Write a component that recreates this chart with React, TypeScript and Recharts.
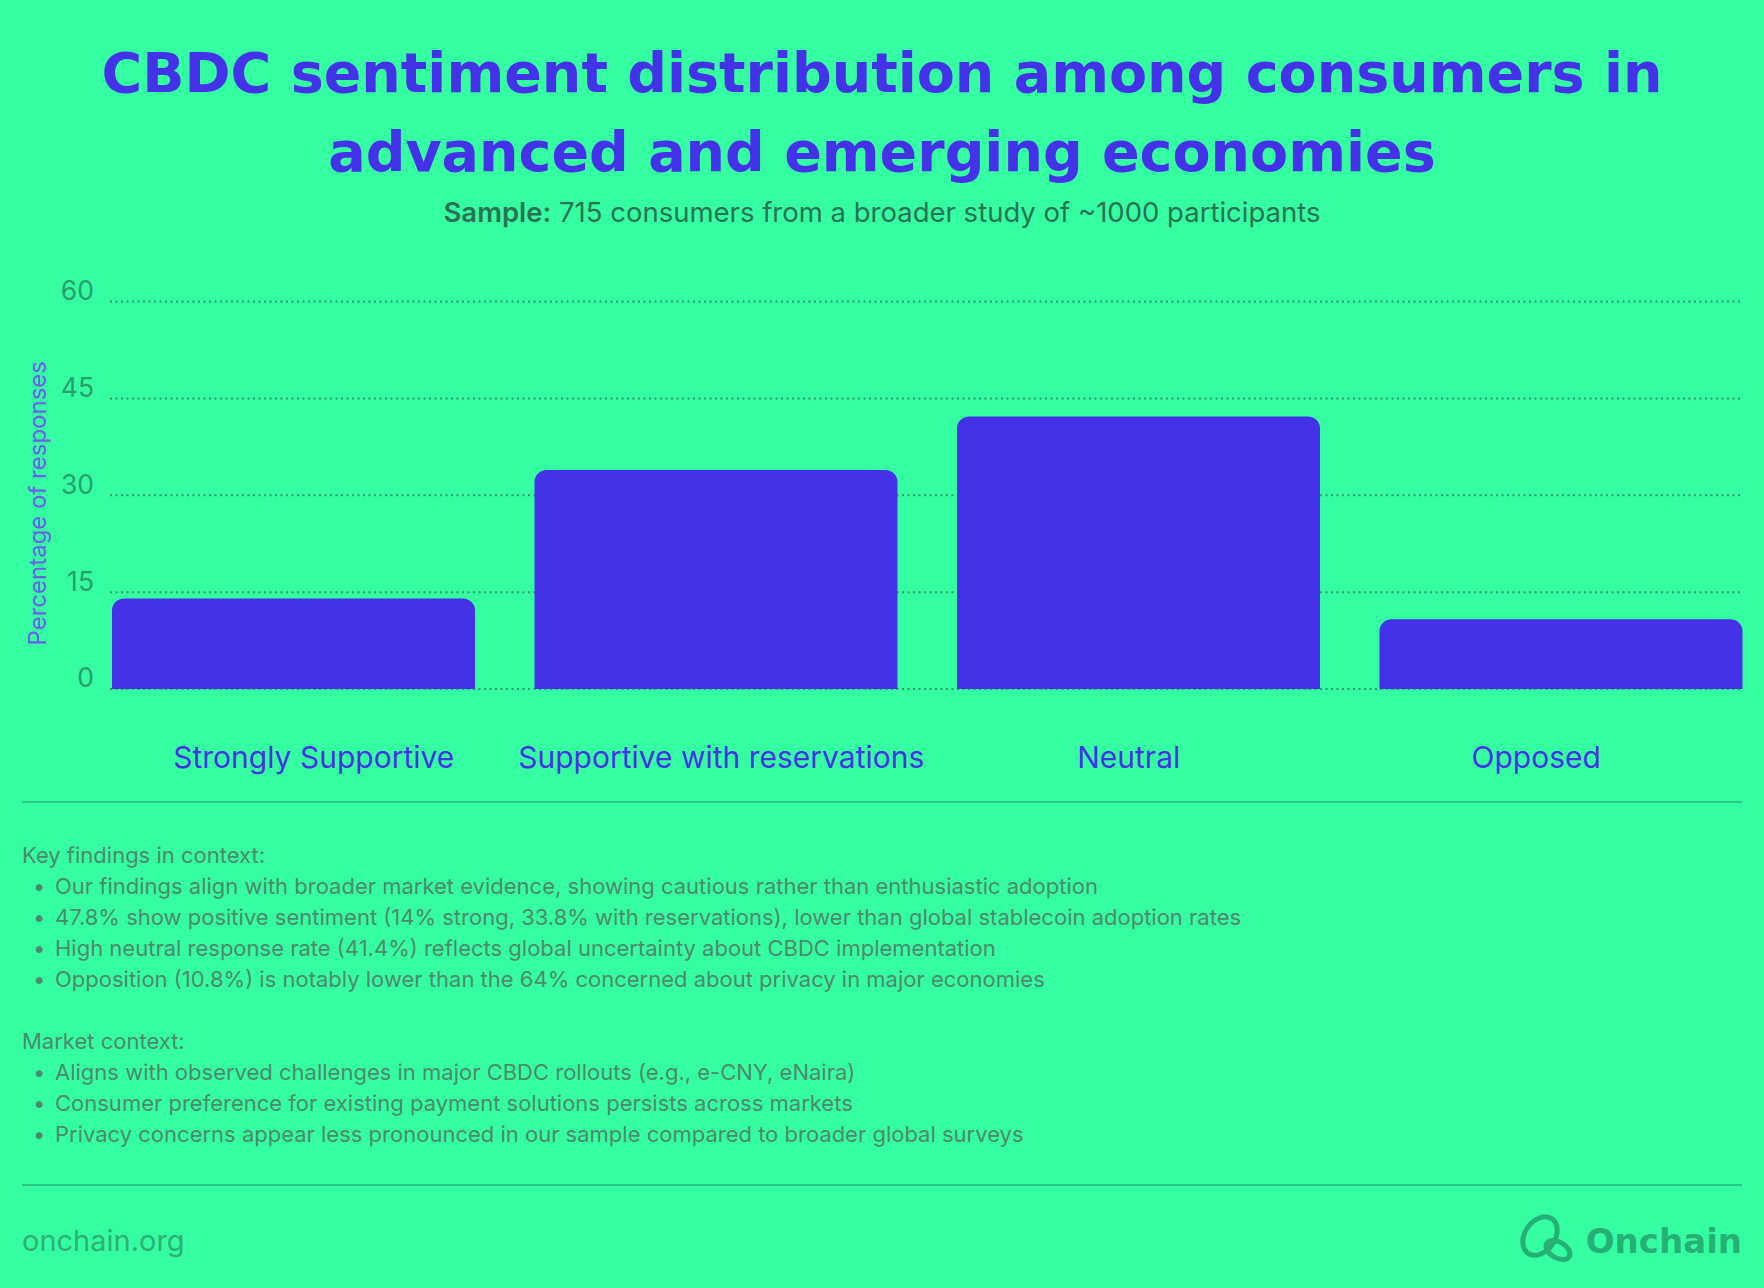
import React from "react";
import { BarChart, Bar, XAxis, YAxis, CartesianGrid, Label } from "recharts";

const categories = [
  "Strongly Supportive",
  "Supportive with reservations",
  "Neutral",
  "Opposed",
];
const shares = [14, 33.9, 42.2, 10.8];
const yTicks = [0, 15, 30, 45, 60];

const titleLines = [
  "CBDC sentiment distribution among consumers in",
  "advanced and emerging economies",
];
const keyFindings = [
  "Our findings align with broader market evidence, showing cautious rather than enthusiastic adoption",
  "47.8% show positive sentiment (14% strong, 33.8% with reservations), lower than global stablecoin adoption rates",
  "High neutral response rate (41.4%) reflects global uncertainty about CBDC implementation",
  "Opposition (10.8%) is notably lower than the 64% concerned about privacy in major economies",
];
const marketContext = [
  "Aligns with observed challenges in major CBDC rollouts (e.g., e-CNY, eNaira)",
  "Consumer preference for existing payment solutions persists across markets",
  "Privacy concerns appear less pronounced in our sample compared to broader global surveys",
];

const data = categories.map((c, i) => ({ category: c, value: shares[i] }));

const BG = "#35FEA2";
const PURPLE = "#4432E8";
const GRID = "#2c9a6a";
const BODY = "#4d8a6a";
const LINE = "#2bc986";

const YTitle = (props: any) => {
  const vb = props.viewBox || { x: 0, y: 0, width: 0, height: 0 };
  const x = vb.x + 7;
  const y = vb.y + vb.height / 2 + 8;
  return (
    <text
      x={x}
      y={y}
      transform={`rotate(-90, ${x}, ${y})`}
      textAnchor="middle"
      dominantBaseline="central"
      fill="#6a60ea"
      fontSize={24}
      fontFamily="Inter, sans-serif"
    >
      Percentage of responses
    </text>
  );
};

const Bullets = ({ top, heading, items }: { top: number; heading: string; items: string[] }) => (
  <div
    style={{
      position: "absolute",
      left: 22,
      top,
      fontFamily: "Inter, sans-serif",
      fontSize: 22,
      lineHeight: "31px",
      color: BODY,
      whiteSpace: "nowrap",
    }}
  >
    <div>{heading}</div>
    {items.map((t, i) => (
      <div key={i} style={{ position: "relative", paddingLeft: 33 }}>
        <span style={{ position: "absolute", left: 11 }}>•</span>
        {t}
      </div>
    ))}
  </div>
);

export default function App() {
  return (
    <div
      style={{
        position: "absolute",
        left: 0,
        top: 0,
        width: 1764,
        height: 1288,
        background: BG,
        overflow: "hidden",
      }}
    >
      <div
        style={{
          position: "absolute",
          left: 0,
          top: 33,
          width: 1764,
          textAlign: "center",
          fontFamily: "'DejaVu Sans', sans-serif",
          fontWeight: 700,
          fontSize: 55.5,
          lineHeight: "79px",
          color: PURPLE,
          whiteSpace: "nowrap",
        }}
      >
        {titleLines.map((l, i) => (
          <div key={i}>{l}</div>
        ))}
      </div>
      <div
        style={{
          position: "absolute",
          left: 0,
          top: 195,
          width: 1764,
          textAlign: "center",
          fontFamily: "Inter, sans-serif",
          fontSize: 27.5,
          lineHeight: "34px",
          color: "#2a7352",
        }}
      >
        <span style={{ fontWeight: 600 }}>Sample:</span> 715 consumers from a broader study of ~1000 participants
      </div>

      <div style={{ position: "absolute", left: 0, top: 240 }}>
        <BarChart
          width={1764}
          height={560}
          data={data}
          margin={{ top: 61.5, right: 24, bottom: 0, left: 30 }}
          barCategoryGap={30}
          style={{ fontFamily: "Inter, sans-serif" }}
        >
          <CartesianGrid
            horizontal={true}
            vertical={false}
            xAxisId="labels"
            stroke={GRID}
            strokeWidth={2}
            strokeDasharray="2 3.5"
          />
          <XAxis xAxisId="bars" dataKey="category" hide padding={{ left: -28, right: -32 }} />
          <XAxis
            xAxisId="labels"
            dataKey="category"
            interval={0}
            tickLine={false}
            axisLine={false}
            tickSize={0}
            tickMargin={28}
            height={111}
            tick={{ fill: "#4433E6", fontSize: 30, fontFamily: "Inter, sans-serif" }}
          />
          <YAxis
            domain={[0, 60]}
            ticks={yTicks}
            width={80}
            tickLine={false}
            axisLine={false}
            tickSize={0}
            tickMargin={16}
            tick={{ fill: "#2a9e6c", fontSize: 26.5, fontFamily: "Inter, sans-serif", dy: -11 }}
          >
            <Label content={YTitle} />
          </YAxis>
          <Bar
            xAxisId="bars"
            dataKey="value"
            fill={PURPLE}
            radius={[12, 12, 0, 0]}
            isAnimationActive={false}
          />
        </BarChart>
      </div>

      <div style={{ position: "absolute", left: 22, top: 801, width: 1720, height: 2, background: LINE }} />

      <Bullets top={839.5} heading="Key findings in context:" items={keyFindings} />
      <Bullets top={1025.5} heading="Market context:" items={marketContext} />

      <div style={{ position: "absolute", left: 22, top: 1184, width: 1720, height: 2, background: LINE }} />

      <div
        style={{
          position: "absolute",
          left: 22,
          top: 1222,
          fontFamily: "Inter, sans-serif",
          fontSize: 29,
          lineHeight: "38px",
          color: "#2db074",
        }}
      >
        onchain.org
      </div>

      <svg
        style={{ position: "absolute", left: 1518, top: 1212 }}
        width={62}
        height={56}
        viewBox="0 0 62 56"
      >
        <g fill="none" stroke="#27b074" strokeWidth={5}>
          <ellipse cx={22} cy={24} rx={15} ry={21} transform="rotate(35 22 24)" />
          <ellipse cx={40} cy={38} rx={13} ry={8} transform="rotate(30 40 38)" />
        </g>
      </svg>
      <div
        style={{
          position: "absolute",
          right: 22,
          top: 1219,
          fontFamily: "'DejaVu Sans', sans-serif",
          fontWeight: 700,
          fontSize: 34,
          lineHeight: "44px",
          color: "#27b074",
        }}
      >
        Onchain
      </div>
    </div>
  );
}
